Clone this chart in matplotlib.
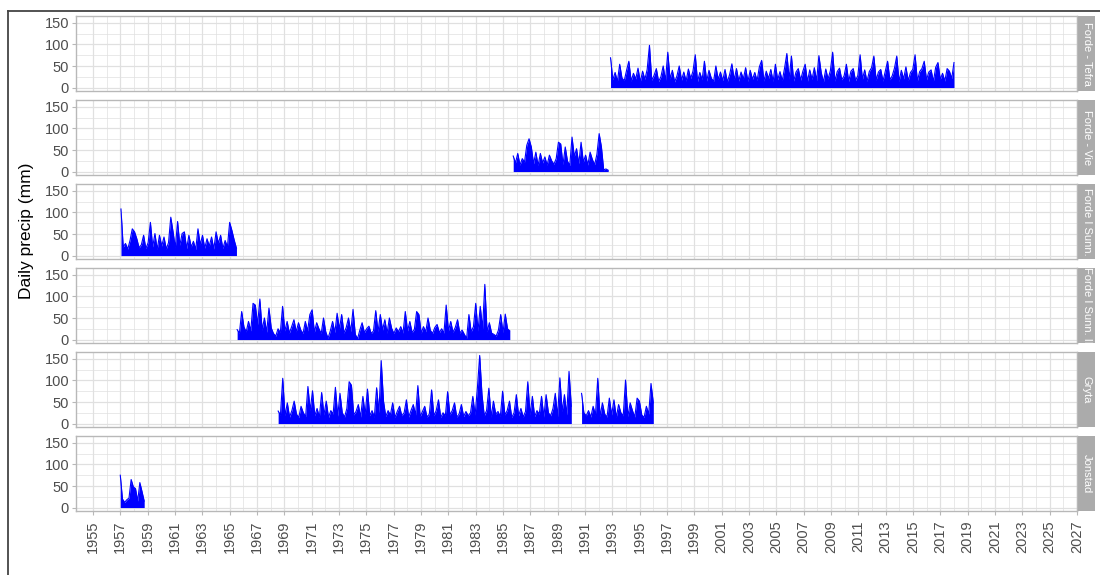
import matplotlib.pyplot as plt
import numpy as np
from matplotlib.lines import Line2D

plt.rcParams['font.family'] = ['Liberation Sans', 'DejaVu Sans']

# facet labels, top to bottom
stations = ["Forde - Tefra", "Forde - Vie", "Forde I Sunn.", "Forde I Sunn. II", "Gryta", "Jonstad"]

# daily precip (mm) at roughly two-month steps
tefra_span = (1992.87, 2018.0)
tefra = [69, 18, 35, 14, 54, 22, 16, 40, 61, 15,
         33, 20, 45, 13, 38, 19, 42, 98, 17, 28,
         44, 14, 25, 50, 16, 82, 20, 40, 13, 27,
         50, 17, 36, 15, 43, 21, 38, 76, 14, 35,
         18, 61, 15, 40, 22, 14, 50, 19, 36, 16,
         42, 13, 30, 55, 18, 44, 15, 36, 20, 46,
         14, 40, 19, 35, 16, 48, 63, 15, 38, 21,
         42, 14, 54, 18, 37, 16, 45, 79, 20, 73,
         15, 36, 44, 17, 38, 54, 14, 41, 19, 46,
         16, 74, 35, 13, 43, 20, 39, 82, 15, 37,
         45, 18, 27, 54, 14, 38, 44, 16, 28, 76,
         19, 41, 14, 37, 46, 73, 17, 36, 42, 15,
         38, 61, 18, 27, 45, 73, 14, 40, 20, 48,
         16, 35, 42, 76, 15, 37, 44, 61, 18, 36,
         41, 14, 47, 58, 19, 33, 15, 44, 38, 21,
         58]

vie_span = (1985.75, 1992.7)
vie = [36, 20, 42, 15, 30, 22, 61, 76, 57, 18,
       45, 14, 42, 20, 34, 15, 38, 25, 17, 30,
       68, 64, 16, 57, 24, 14, 80, 35, 53, 18,
       68, 22, 38, 15, 45, 28, 16, 40, 88, 57,
       4, 6, 3]

sunn1_span = (1957.05, 1965.5)
sunn1 = [108, 20, 28, 15, 35, 62, 55, 39, 18, 25,
         47, 16, 30, 77, 20, 51, 14, 47, 22, 43,
         15, 30, 89, 55, 18, 79, 24, 51, 55, 16,
         47, 20, 33, 14, 62, 25, 47, 17, 39, 22,
         43, 15, 55, 28, 47, 16, 35, 20, 77, 58,
         36, 17]

sunn2_span = (1965.55, 1985.5)
sunn2 = [23, 15, 65, 29, 18, 42, 20, 84, 80, 35,
         94, 22, 50, 17, 73, 27, 14, 8, 25, 16,
         77, 20, 42, 15, 30, 46, 18, 39, 22, 14,
         42, 20, 58, 69, 17, 39, 25, 14, 50, 18,
         3, 20, 42, 16, 61, 24, 58, 15, 28, 50,
         18, 70, 12, 2, 22, 39, 16, 25, 31, 14,
         20, 67, 18, 58, 22, 46, 15, 50, 26, 14,
         27, 18, 30, 15, 65, 20, 42, 16, 24, 65,
         58, 15, 30, 18, 50, 22, 14, 28, 35, 16,
         25, 15, 80, 20, 42, 17, 28, 46, 15, 22,
         12, 3, 58, 18, 30, 84, 20, 77, 25, 128,
         18, 39, 15, 12, 8, 22, 58, 16, 59, 25,
         20]

gryta_a_span = (1968.55, 1990.0)
gryta_a = [29, 20, 105, 18, 48, 15, 30, 52, 22, 14,
           40, 25, 16, 86, 30, 76, 18, 35, 15, 72,
           20, 52, 14, 30, 22, 84, 17, 70, 25, 15,
           35, 97, 89, 20, 28, 44, 15, 63, 22, 80,
           18, 30, 15, 83, 25, 146, 52, 16, 30, 20,
           48, 14, 28, 40, 18, 25, 55, 15, 30, 44,
           20, 88, 16, 28, 40, 15, 22, 78, 18, 30,
           55, 14, 25, 18, 74, 20, 30, 48, 15, 22,
           44, 16, 28, 18, 25, 63, 20, 83, 158, 67,
           18, 30, 82, 15, 52, 22, 28, 16, 75, 20,
           30, 52, 14, 25, 67, 18, 35, 15, 28, 97,
           20, 63, 16, 30, 22, 63, 15, 67, 25, 18,
           35, 70, 16, 106, 28, 67, 20, 121, 40]

gryta_b_span = (1990.75, 1996.0)
gryta_b = [70, 25, 18, 30, 15, 40, 20, 105, 16, 48,
           22, 15, 59, 20, 55, 14, 44, 25, 18, 101,
           16, 48, 30, 15, 59, 52, 20, 14, 40, 22,
           93, 48]

jonstad_span = (1957.0, 1958.75)
jonstad = [75, 20, 12, 18, 22, 65, 48, 44, 15, 58, 37, 15]

segments = [
    [(tefra_span, tefra)],
    [(vie_span, vie)],
    [(sunn1_span, sunn1)],
    [(sunn2_span, sunn2)],
    [(gryta_a_span, gryta_a), (gryta_b_span, gryta_b)],
    [(jonstad_span, jonstad)],
]

year_ticks = list(range(1955, 2028, 2))
y_ticks = [0, 50, 100, 150]

W, H = 1100, 575
fig = plt.figure(figsize=(11, 5.75), dpi=100)

left, right = 76, 1077
top0, pitch, ph = 16, 84, 75
grid_col = '#E0E0E0'
border_col = '#B8B8B8'

for k, name in enumerate(stations):
    top = top0 + pitch * k
    ax = fig.add_axes([left / W, 1 - (top + ph) / H, (right - left) / W, ph / H])
    for (x0, x1), vals in segments[k]:
        x = np.linspace(x0, x1, len(vals))
        ax.fill_between(x, 0, vals, color='blue', lw=0)
        ax.plot(x, vals, color='blue', lw=0.8)

    ax.set_xlim(1953.76, 2027.0)
    ax.set_ylim(-8, 166)
    ax.set_xticks(year_ticks)
    ax.set_xticks([y + 1 for y in year_ticks[:-1]], minor=True)
    ax.set_yticks(y_ticks)
    ax.set_yticks([25, 75, 125], minor=True)
    ax.grid(True, which='major', color=grid_col, lw=0.9)
    ax.grid(True, which='minor', color=grid_col, lw=0.5)
    ax.set_axisbelow(True)
    for s in ax.spines.values():
        s.set_color(border_col)
        s.set_linewidth(1.0)
    ax.tick_params(which='minor', length=0)
    ax.tick_params(which='major', length=3, color=border_col, labelcolor='#4D4D4D',
                   labelsize=10.5, pad=2)
    if k < len(stations) - 1:
        ax.tick_params(axis='x', which='major', length=0, labelbottom=False)
    else:
        ax.tick_params(axis='x', pad=4)
        ax.set_xticklabels([str(y) for y in year_ticks], rotation=90)

    # strip on the right
    sax = fig.add_axes([(right + 1) / W, 1 - (top + ph) / H, 17 / W, ph / H])
    sax.set_facecolor('#ABABAB')
    sax.set_xticks([])
    sax.set_yticks([])
    for s in sax.spines.values():
        s.set_visible(False)
    sax.text(0.5, 0.5, name, rotation=-90, ha='center', va='center', color='white',
             fontsize=8, transform=sax.transAxes, clip_on=True)

fig.text(27 / W, 1 - 231 / H, "Daily precip (mm)", rotation=90, ha='center', va='center',
         fontsize=12.5, color='black')

# frame of the screenshot
fig.add_artist(Line2D([8 / W, 1], [1 - 11 / H, 1 - 11 / H], color='#444444', lw=1.3))
fig.add_artist(Line2D([8 / W, 8 / W], [0, 1 - 11 / H], color='#444444', lw=1.3))

fig.savefig('out.png', dpi=100, facecolor='white')
